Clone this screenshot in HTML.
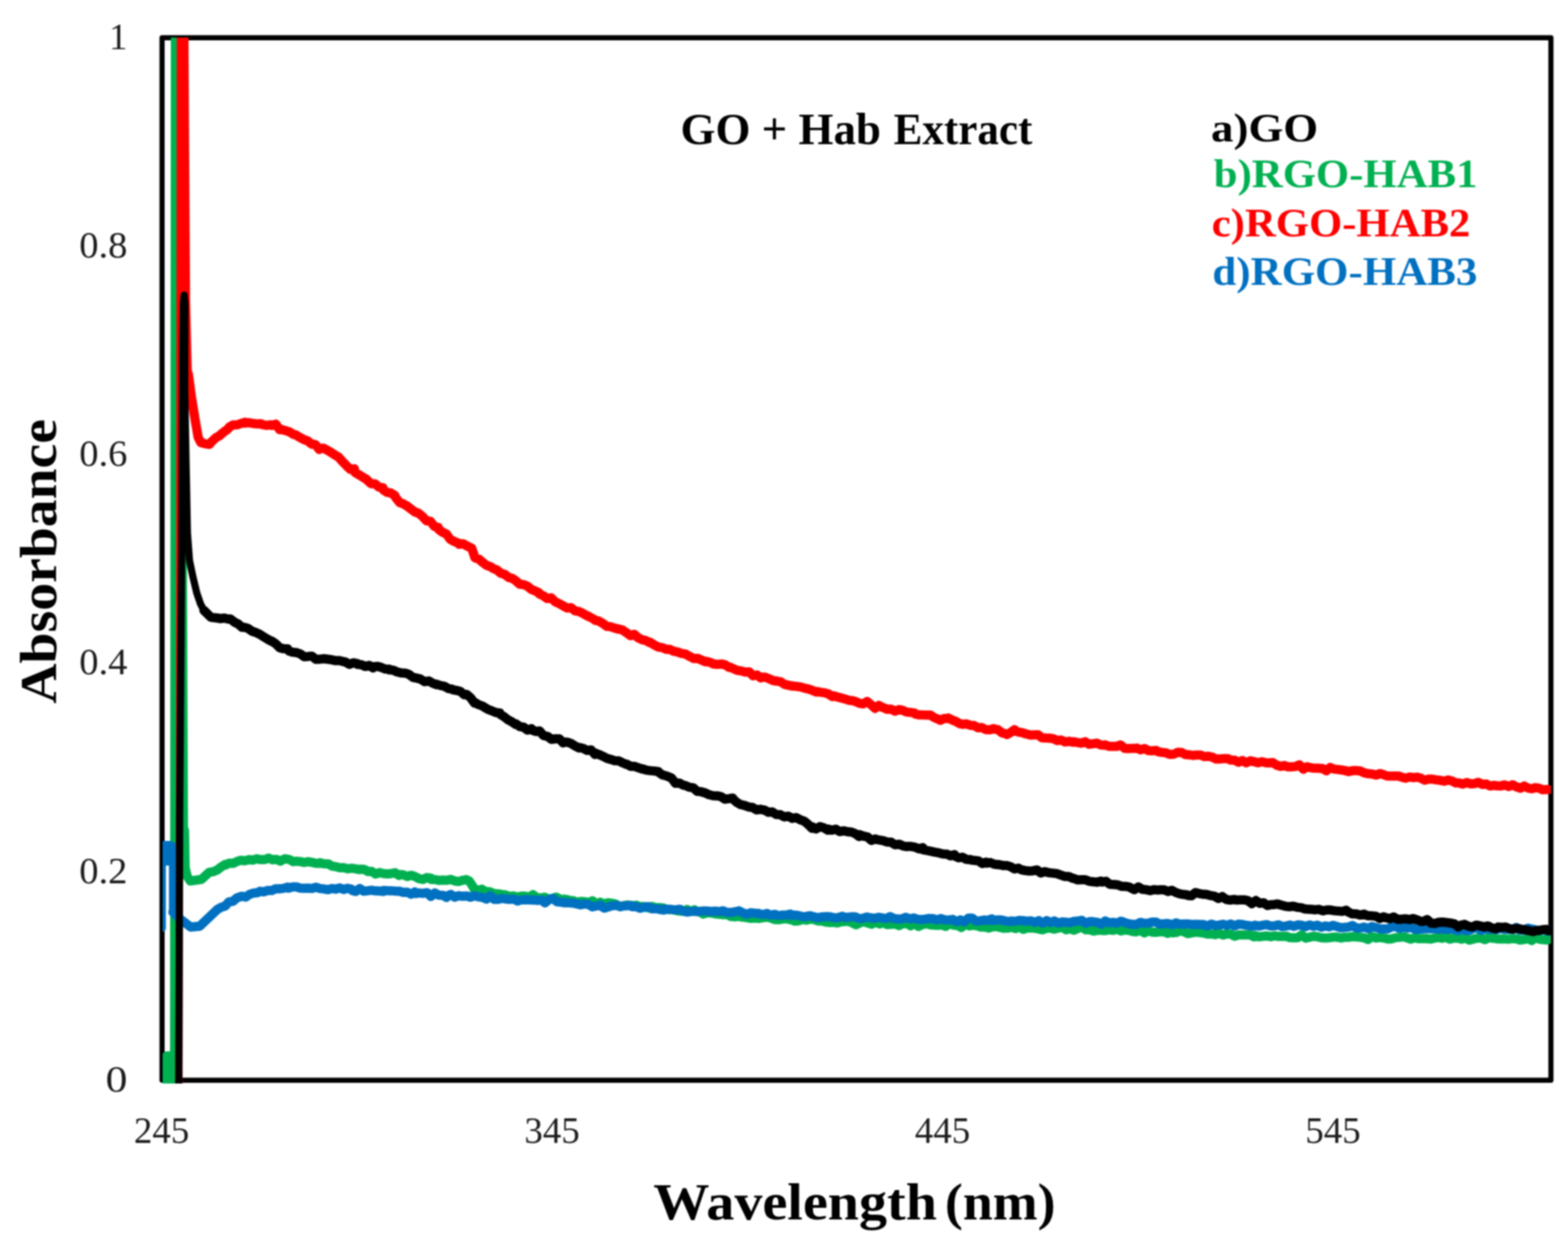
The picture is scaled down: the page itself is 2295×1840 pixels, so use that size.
<!DOCTYPE html>
<html><head><meta charset="utf-8"><title>GO + Hab Extract</title>
<style>
html,body{margin:0;padding:0;background:#fff;}
body{width:2295px;height:1840px;overflow:hidden;}
svg{display:block;}
#wrap{filter:blur(1px);width:2295px;height:1840px;}
.tick{font-family:"Liberation Serif",serif;font-size:54px;fill:#1c1c1c;}
.bold{font-family:"Liberation Serif",serif;font-weight:bold;}
</style></head><body><div id="wrap">
<svg width="2295" height="1840" viewBox="0 0 2295 1840">
<rect width="2295" height="1840" fill="#fff"/>
<defs><clipPath id="pa"><rect x="238" y="55" width="2032.0" height="1531"/></clipPath></defs>
<rect x="237.2" y="55.2" width="2032.8" height="1526.0" fill="none" stroke="#000" stroke-width="7.5" stroke-linejoin="round"/>
<g clip-path="url(#pa)">
<path d="M243.2 1620.0 L243.2 1544.2 L248.5 1544.2 L248.5 1620.0 L254.0 1620.0 L255.3 30.0 L265.0 30.0 L270.0 1215.0" fill="none" stroke="#00B050" stroke-width="10.5" stroke-linejoin="round" stroke-linecap="round"/>
<path d="M270.0 1215.0 L271.0 1270.0 L274.0 1283.0 L278.6 1289.6 L294.8 1287.3 L306.4 1276.8 L312.1 1275.9 L317.8 1273.6 L323.5 1269.2 L329.3 1265.6 L329.6 1266.4 L335.3 1263.6 L341.0 1263.8 L346.7 1261.1 L352.5 1259.2 L358.2 1260.0 L363.9 1258.6 L364.4 1258.3 L370.1 1259.0 L375.8 1257.1 L381.5 1258.3 L387.3 1258.2 L387.5 1258.3 L393.2 1256.1 L398.9 1258.5 L404.6 1258.0 L410.4 1260.5 L416.1 1257.4 L417.7 1257.1 L423.4 1258.1 L429.1 1261.2 L433.9 1260.6 L439.6 1261.2 L445.3 1262.5 L451.0 1261.3 L456.8 1262.4 L462.5 1263.8 L468.2 1263.8 L468.7 1262.9 L474.4 1264.5 L480.1 1264.4 L485.8 1267.8 L491.6 1268.7 L491.9 1268.7 L497.6 1270.2 L503.3 1270.1 L509.0 1271.8 L514.8 1270.9 L520.5 1271.8 L526.2 1273.0 L526.7 1272.2 L532.4 1272.5 L538.1 1275.1 L538.3 1275.7 L544.0 1275.6 L549.7 1279.4 L555.4 1277.3 L561.2 1278.8 L566.9 1279.3 L572.6 1278.7 L578.3 1277.6 L584.0 1281.5 L584.7 1280.3 L590.4 1280.6 L596.1 1283.0 L601.8 1281.2 L607.6 1283.2 L613.3 1286.2 L619.0 1287.3 L624.7 1284.6 L630.4 1285.5 L631.1 1287.3 L636.8 1287.5 L642.5 1288.7 L648.2 1288.2 L654.0 1288.6 L659.7 1287.2 L665.4 1289.5 L671.1 1290.4 L676.8 1288.6 L682.5 1287.6 L686.7 1289.6 L692.4 1298.1 L693.7 1301.2 L699.4 1303.5 L705.1 1301.6 L710.8 1305.0 L716.6 1305.2 L722.3 1307.6 L723.8 1308.1 L729.5 1308.4 L735.2 1309.4 L740.0 1309.9 L745.7 1312.4 L751.4 1311.4 L757.1 1313.1 L762.9 1311.7 L768.6 1311.8 L774.3 1313.4 L780.0 1309.7 L785.7 1313.8 L791.4 1314.6 L797.1 1313.3 L802.9 1316.0 L808.6 1315.2 L814.3 1313.2 L820.0 1316.6 L825.7 1316.1 L831.4 1317.2 L832.8 1318.0 L838.5 1318.3 L844.2 1320.6 L849.9 1319.6 L855.7 1320.0 L861.4 1321.0 L867.1 1318.6 L872.8 1323.1 L878.5 1320.6 L884.2 1323.1 L889.9 1321.5 L895.7 1322.2 L901.4 1323.5 L907.1 1327.0 L912.8 1325.9 L918.5 1324.7 L924.2 1325.6 L925.5 1326.1 L931.2 1325.1 L936.9 1327.1 L942.6 1326.9 L948.4 1329.0 L954.1 1326.8 L959.8 1328.7 L965.5 1328.5 L971.2 1329.2 L976.9 1331.5 L982.6 1331.3 L988.4 1332.3 L994.1 1333.6 L999.8 1334.1 L1005.5 1331.3 L1011.2 1334.3 L1016.9 1331.8 L1018.3 1334.2 L1024.0 1334.8 L1029.7 1338.0 L1035.4 1335.9 L1041.2 1336.4 L1046.9 1337.7 L1052.6 1338.2 L1058.3 1338.9 L1064.0 1338.5 L1069.7 1341.6 L1075.5 1342.0 L1081.2 1341.2 L1086.9 1342.6 L1087.9 1342.3 L1093.6 1343.4 L1099.3 1344.2 L1105.0 1343.7 L1110.8 1344.4 L1116.5 1343.4 L1122.2 1342.6 L1127.9 1343.7 L1133.6 1345.9 L1139.3 1346.2 L1145.1 1345.4 L1150.8 1344.7 L1156.5 1346.2 L1157.4 1345.8 L1163.1 1348.3 L1168.8 1348.1 L1174.5 1345.8 L1180.3 1346.9 L1186.0 1345.4 L1191.7 1346.1 L1197.4 1348.1 L1203.1 1348.2 L1208.8 1349.7 L1214.6 1350.4 L1220.3 1350.1 L1226.0 1351.0 L1230.0 1349.5 L1235.7 1349.0 L1241.4 1348.4 L1247.1 1350.7 L1252.9 1353.7 L1258.6 1350.9 L1264.3 1349.1 L1270.0 1351.1 L1275.7 1352.9 L1281.4 1349.8 L1287.2 1352.4 L1292.9 1350.8 L1298.6 1353.4 L1304.3 1353.0 L1310.0 1352.5 L1315.7 1354.9 L1321.4 1352.0 L1327.2 1351.8 L1332.9 1355.3 L1338.6 1351.9 L1344.3 1356.1 L1350.0 1353.4 L1355.7 1352.3 L1361.4 1353.8 L1367.2 1354.2 L1372.9 1354.5 L1378.6 1354.1 L1384.3 1356.0 L1390.0 1351.7 L1395.7 1354.2 L1401.5 1354.8 L1407.2 1357.7 L1412.9 1352.9 L1418.6 1355.3 L1424.3 1354.4 L1430.0 1355.2 L1435.7 1357.1 L1441.5 1357.0 L1447.2 1358.5 L1451.9 1356.8 L1457.6 1356.2 L1463.3 1357.5 L1469.0 1358.8 L1474.8 1358.6 L1480.5 1357.2 L1486.2 1359.2 L1491.9 1356.7 L1497.6 1360.4 L1503.3 1358.4 L1509.1 1358.2 L1514.8 1358.9 L1520.5 1359.8 L1526.2 1361.1 L1531.9 1358.8 L1537.6 1358.7 L1543.3 1360.1 L1549.1 1358.4 L1554.8 1357.5 L1560.5 1360.9 L1566.2 1359.5 L1571.9 1361.6 L1577.6 1359.0 L1583.3 1356.7 L1589.1 1361.0 L1594.8 1361.0 L1600.5 1363.0 L1606.2 1361.8 L1611.9 1361.7 L1617.6 1362.2 L1623.4 1361.1 L1629.1 1361.8 L1634.8 1360.1 L1640.5 1362.7 L1646.2 1361.2 L1651.9 1361.8 L1657.6 1363.4 L1663.4 1363.9 L1669.1 1361.5 L1674.8 1365.6 L1680.5 1362.4 L1686.2 1364.4 L1691.9 1364.7 L1697.6 1363.9 L1703.4 1364.0 L1709.1 1366.3 L1710.0 1364.0 L1715.7 1365.4 L1721.4 1365.1 L1727.1 1362.4 L1732.9 1364.0 L1738.6 1366.7 L1744.3 1365.7 L1750.0 1364.5 L1755.7 1365.1 L1761.4 1365.8 L1767.2 1367.3 L1772.9 1367.2 L1778.6 1368.2 L1784.3 1366.1 L1790.0 1368.7 L1795.7 1367.0 L1801.4 1367.5 L1807.2 1370.4 L1812.9 1368.5 L1818.6 1368.4 L1824.3 1368.6 L1830.0 1368.6 L1835.7 1371.4 L1836.8 1369.4 L1842.5 1371.3 L1848.2 1370.6 L1853.9 1370.0 L1859.7 1371.2 L1865.4 1369.9 L1871.1 1370.7 L1876.8 1370.7 L1882.5 1370.4 L1888.2 1372.6 L1894.0 1372.8 L1899.7 1372.4 L1905.4 1368.3 L1911.1 1373.3 L1916.8 1371.9 L1922.5 1370.5 L1928.2 1371.2 L1934.0 1372.8 L1939.7 1373.0 L1945.4 1372.7 L1951.1 1371.8 L1956.8 1371.8 L1962.5 1373.0 L1968.2 1371.9 L1973.7 1372.1 L1979.4 1371.0 L1985.1 1371.4 L1990.8 1372.1 L1996.6 1372.8 L2002.3 1375.3 L2008.0 1370.7 L2013.7 1373.1 L2019.4 1372.4 L2025.1 1373.0 L2030.9 1374.4 L2036.6 1374.4 L2042.3 1372.6 L2048.0 1372.1 L2053.7 1371.1 L2059.4 1372.9 L2065.1 1374.7 L2070.9 1372.7 L2076.6 1374.1 L2082.3 1374.1 L2088.0 1373.8 L2093.7 1374.7 L2099.4 1373.2 L2105.1 1372.4 L2110.5 1373.5 L2116.2 1372.0 L2121.9 1374.8 L2127.6 1373.2 L2133.4 1373.3 L2139.1 1374.8 L2144.8 1372.8 L2150.5 1376.1 L2156.2 1374.7 L2161.9 1373.2 L2167.7 1373.2 L2173.4 1375.4 L2179.1 1372.5 L2184.8 1373.3 L2190.5 1374.2 L2196.2 1374.5 L2201.9 1374.3 L2207.7 1374.8 L2213.4 1373.9 L2219.1 1374.2 L2224.8 1376.1 L2230.5 1375.3 L2236.2 1374.0 L2241.9 1376.8 L2247.7 1372.1 L2253.4 1374.8 L2259.1 1375.6 L2264.8 1376.0 L2266.5 1374.8" fill="none" stroke="#00B050" stroke-width="13.5" stroke-linejoin="round" stroke-linecap="round"/>
<path d="M262.0 1620.0 L264.0 30.0 L270.5 30.0 L273.0 440.0 L275.6 547.0" fill="none" stroke="#FF0000" stroke-width="10.5" stroke-linejoin="round" stroke-linecap="round"/>
<path d="M275.6 547.0 L280.0 580.0 L285.5 614.0 L290.0 640.0 L294.0 648.0 L300.9 649.6 L306.6 650.5 L310.2 646.1 L315.9 640.8 L321.6 637.8 L322.0 637.0 L327.7 632.3 L333.4 628.2 L335.7 625.2 L341.4 621.9 L347.1 621.8 L352.8 619.9 L358.6 618.1 L358.9 619.4 L364.6 618.8 L370.3 619.8 L376.0 620.6 L381.8 620.3 L384.4 621.7 L390.1 622.7 L395.8 621.8 L398.0 622.7 L403.7 620.9 L409.4 629.0 L412.3 628.7 L418.0 630.4 L423.7 632.2 L429.4 635.7 L433.1 636.8 L438.8 640.3 L444.5 643.3 L450.2 645.4 L456.0 650.0 L461.7 651.0 L467.4 658.1 L467.9 656.5 L473.6 656.1 L479.0 659.0 L484.7 662.3 L490.4 666.1 L495.7 669.3 L501.4 675.8 L507.1 681.5 L507.3 682.0 L513.0 687.1 L518.7 686.2 L519.4 691.5 L525.1 694.8 L530.8 698.3 L536.5 701.6 L537.5 702.9 L543.2 708.1 L548.9 708.3 L554.6 712.9 L560.4 713.8 L560.7 716.8 L566.4 720.6 L572.1 721.7 L577.8 725.3 L579.2 728.4 L584.9 735.6 L590.6 737.7 L596.3 741.1 L602.1 745.6 L607.1 749.3 L612.8 751.4 L618.5 756.1 L624.2 762.3 L630.0 763.1 L635.7 770.5 L641.4 772.0 L641.8 774.8 L647.5 779.0 L653.2 781.5 L658.9 789.4 L664.7 792.6 L670.4 794.8 L672.0 796.8 L677.7 795.9 L683.4 799.2 L689.1 801.9 L690.5 802.6 L695.2 816.5 L700.9 818.4 L706.6 823.4 L712.3 827.7 L718.1 829.7 L721.5 832.0 L727.2 834.3 L732.9 839.0 L738.6 840.7 L744.4 845.2 L750.1 846.8 L754.8 849.9 L760.5 855.1 L766.2 855.8 L771.9 858.0 L777.7 862.8 L783.4 865.1 L789.1 867.9 L789.6 869.6 L795.3 872.1 L801.0 876.1 L806.7 875.1 L812.5 880.8 L818.2 883.5 L823.9 886.4 L824.4 887.0 L830.1 890.0 L835.8 889.4 L841.5 894.1 L847.3 895.1 L852.2 897.4 L857.9 900.6 L863.6 903.4 L869.3 906.4 L870.7 907.8 L876.4 909.1 L882.1 912.4 L887.8 916.7 L893.6 917.4 L899.3 919.3 L905.0 921.0 L905.5 920.6 L911.2 922.3 L916.9 926.1 L922.6 930.5 L928.4 928.5 L934.1 933.7 L939.8 936.4 L945.5 937.8 L951.2 940.9 L951.9 940.3 L957.6 944.0 L963.3 947.1 L969.0 947.9 L974.8 950.4 L980.5 950.6 L986.2 953.3 L991.9 954.4 L997.6 956.6 L998.3 956.5 L1004.0 957.7 L1009.7 961.1 L1015.4 964.0 L1021.2 963.8 L1026.9 966.3 L1032.6 968.7 L1033.1 968.1 L1038.8 969.4 L1044.5 972.0 L1050.2 972.4 L1056.0 971.9 L1061.7 973.4 L1067.4 977.1 L1067.9 976.3 L1073.6 978.9 L1079.3 981.4 L1085.0 982.1 L1090.8 983.9 L1096.5 983.4 L1102.2 989.2 L1107.9 988.0 L1113.6 992.4 L1114.2 991.3 L1119.9 991.3 L1125.6 993.5 L1131.3 996.2 L1137.1 997.0 L1142.8 998.2 L1148.5 1001.9 L1154.2 1003.2 L1159.9 1004.4 L1160.6 1004.1 L1166.3 1004.9 L1172.0 1005.6 L1177.7 1007.4 L1183.5 1008.7 L1189.2 1010.7 L1194.9 1013.1 L1195.4 1012.2 L1201.1 1013.4 L1206.8 1014.1 L1212.5 1015.8 L1218.3 1019.7 L1220.0 1018.5 L1225.7 1020.2 L1231.4 1021.8 L1237.1 1023.3 L1242.9 1025.2 L1246.4 1025.4 L1252.1 1026.8 L1257.8 1029.5 L1263.5 1030.3 L1269.3 1026.8 L1275.0 1031.6 L1280.7 1036.9 L1286.4 1032.7 L1292.1 1035.8 L1292.8 1035.8 L1298.5 1038.3 L1304.2 1038.1 L1309.9 1041.0 L1315.7 1038.7 L1321.4 1039.9 L1327.1 1042.4 L1332.8 1042.9 L1338.5 1043.6 L1339.1 1045.1 L1344.8 1046.4 L1350.5 1046.6 L1356.2 1046.8 L1362.0 1046.8 L1362.3 1047.4 L1368.0 1050.6 L1373.7 1053.0 L1376.3 1054.4 L1382.0 1051.7 L1387.7 1051.6 L1387.8 1050.9 L1393.5 1053.9 L1399.2 1056.1 L1404.9 1059.4 L1408.7 1060.2 L1414.4 1059.6 L1420.1 1061.7 L1425.8 1062.1 L1431.6 1065.3 L1437.3 1065.1 L1443.0 1068.1 L1448.7 1068.2 L1454.4 1066.5 L1455.1 1067.1 L1460.8 1068.2 L1466.5 1072.7 L1472.2 1074.2 L1473.7 1075.2 L1479.4 1072.1 L1485.1 1068.1 L1485.3 1069.4 L1491.0 1071.7 L1496.7 1072.7 L1502.4 1074.5 L1508.2 1075.9 L1513.9 1075.8 L1519.6 1075.6 L1524.7 1079.9 L1530.4 1080.3 L1536.1 1080.5 L1541.8 1081.4 L1547.6 1084.0 L1553.3 1083.3 L1559.0 1086.1 L1564.7 1085.1 L1570.4 1086.5 L1571.1 1085.7 L1576.8 1086.9 L1582.5 1087.9 L1588.2 1085.8 L1594.0 1089.4 L1599.7 1088.7 L1605.4 1087.8 L1611.1 1090.5 L1616.8 1090.7 L1617.4 1090.3 L1623.1 1092.6 L1628.8 1092.4 L1634.5 1092.5 L1640.3 1090.5 L1646.0 1095.4 L1651.7 1095.7 L1657.4 1095.4 L1663.1 1095.5 L1663.8 1095.0 L1669.5 1097.6 L1675.2 1095.8 L1680.9 1098.8 L1686.7 1098.9 L1692.4 1098.6 L1695.0 1100.3 L1700.7 1101.4 L1706.4 1102.0 L1712.1 1104.3 L1717.9 1104.0 L1723.6 1101.3 L1729.3 1101.4 L1735.0 1104.5 L1740.7 1104.9 L1745.7 1105.7 L1751.4 1105.2 L1757.1 1105.2 L1762.8 1107.6 L1768.6 1107.0 L1774.3 1108.3 L1780.0 1111.1 L1785.7 1111.0 L1791.4 1110.4 L1797.1 1110.6 L1801.3 1112.6 L1807.0 1112.8 L1812.7 1115.7 L1818.4 1113.2 L1824.2 1116.6 L1829.9 1113.7 L1835.6 1114.9 L1841.3 1116.5 L1847.0 1115.0 L1852.7 1116.5 L1857.0 1116.8 L1862.7 1116.2 L1868.4 1120.0 L1874.1 1121.8 L1879.9 1120.6 L1884.8 1122.4 L1890.5 1122.6 L1896.2 1121.9 L1901.9 1119.6 L1907.7 1126.0 L1912.7 1122.4 L1918.4 1123.8 L1924.1 1124.6 L1929.8 1124.6 L1935.6 1124.9 L1941.3 1128.3 L1947.0 1123.4 L1952.7 1125.9 L1958.4 1126.4 L1964.1 1127.2 L1968.3 1127.9 L1974.0 1129.4 L1979.7 1128.1 L1985.4 1127.9 L1991.2 1128.7 L1996.9 1131.4 L2002.6 1132.6 L2008.3 1133.0 L2014.0 1134.6 L2019.7 1132.4 L2024.0 1133.5 L2029.7 1135.7 L2035.4 1136.1 L2041.1 1135.9 L2046.9 1136.0 L2051.8 1137.7 L2057.5 1139.1 L2063.2 1137.4 L2068.9 1138.2 L2074.7 1137.6 L2079.6 1139.1 L2085.3 1142.1 L2091.0 1140.4 L2096.7 1140.6 L2102.5 1141.6 L2108.2 1142.3 L2113.9 1143.5 L2119.6 1141.8 L2125.3 1143.3 L2131.0 1146.1 L2135.3 1146.0 L2141.0 1147.8 L2146.7 1145.5 L2152.4 1147.4 L2158.2 1147.0 L2163.9 1145.2 L2169.6 1148.2 L2175.3 1147.6 L2181.0 1150.6 L2186.7 1149.6 L2191.0 1150.2 L2196.7 1150.4 L2202.4 1148.9 L2208.1 1151.2 L2213.9 1148.8 L2219.6 1151.9 L2225.3 1153.7 L2231.0 1150.6 L2236.7 1153.6 L2242.4 1154.6 L2246.6 1153.0 L2252.3 1153.6 L2258.0 1156.1 L2263.7 1155.6 L2266.0 1155.8" fill="none" stroke="#FF0000" stroke-width="13.5" stroke-linejoin="round" stroke-linecap="round"/>
<path d="M237.5 1359.0 L237.5 1240.0 L252.5 1242.0 L252.5 1335.0 L253.0 1335.0" fill="none" stroke="#0070C0" stroke-width="10.5" stroke-linejoin="round" stroke-linecap="round"/>
<path d="M253.0 1335.0 L263.0 1345.0 L270.0 1350.0 L279.0 1357.0 L292.5 1355.7 L318.0 1331.3 L323.7 1328.1 L329.4 1326.3 L335.1 1320.2 L340.9 1319.4 L346.6 1314.4 L348.1 1313.9 L353.8 1311.9 L359.5 1313.1 L365.2 1309.2 L371.0 1307.3 L376.7 1306.7 L380.6 1304.6 L386.3 1305.5 L392.0 1303.4 L397.7 1303.6 L403.5 1300.9 L409.2 1301.1 L414.9 1300.4 L420.6 1298.6 L422.3 1300.2 L428.0 1298.3 L433.7 1298.2 L439.4 1300.0 L445.2 1300.2 L450.9 1300.0 L456.6 1300.6 L462.3 1298.8 L468.0 1300.5 L468.7 1300.6 L474.4 1301.3 L480.1 1302.3 L485.8 1300.6 L491.6 1301.5 L497.3 1299.8 L503.0 1302.1 L508.7 1300.2 L514.4 1301.6 L515.1 1303.5 L520.8 1304.9 L526.5 1300.6 L532.2 1304.5 L538.0 1303.9 L543.7 1303.1 L549.4 1304.1 L555.1 1304.2 L560.8 1304.9 L561.5 1303.5 L567.2 1303.8 L572.9 1303.9 L578.6 1304.4 L584.4 1304.5 L590.1 1306.3 L595.8 1305.9 L601.5 1308.9 L607.2 1305.6 L607.9 1308.1 L613.6 1307.1 L619.3 1307.7 L625.0 1306.7 L630.8 1312.3 L636.5 1307.1 L642.2 1310.3 L647.9 1310.4 L653.6 1313.7 L654.2 1311.6 L659.9 1309.2 L665.6 1313.3 L671.3 1311.1 L677.1 1312.0 L682.8 1311.5 L688.5 1313.3 L694.2 1311.2 L699.9 1312.7 L700.6 1312.8 L706.3 1313.7 L712.0 1316.1 L717.7 1311.1 L723.5 1316.6 L729.2 1316.4 L734.9 1315.0 L740.0 1316.0 L745.7 1316.6 L751.4 1315.9 L757.1 1318.9 L762.9 1317.3 L768.6 1317.0 L774.3 1317.2 L780.0 1317.5 L785.7 1317.7 L786.4 1318.0 L792.1 1317.3 L797.8 1321.5 L803.5 1316.8 L809.3 1315.0 L815.0 1320.0 L820.7 1320.4 L826.4 1321.5 L832.1 1321.2 L832.8 1321.5 L838.5 1321.9 L844.2 1323.1 L849.9 1324.5 L855.7 1323.2 L861.4 1323.9 L867.1 1327.4 L872.8 1326.2 L878.5 1324.8 L879.1 1326.1 L884.8 1329.3 L890.5 1327.4 L896.2 1325.8 L902.0 1325.2 L907.7 1327.2 L913.4 1325.9 L919.1 1325.8 L924.8 1325.6 L925.5 1327.3 L931.2 1327.1 L936.9 1329.6 L942.6 1328.0 L948.4 1327.1 L954.1 1330.3 L959.8 1329.9 L965.5 1331.3 L971.2 1332.2 L971.9 1330.7 L977.6 1330.9 L983.3 1331.4 L989.0 1331.9 L994.8 1330.9 L1000.5 1333.7 L1006.2 1335.1 L1011.9 1333.9 L1017.6 1333.8 L1018.3 1334.2 L1024.0 1334.0 L1029.7 1333.5 L1035.4 1333.6 L1041.2 1334.3 L1046.9 1333.8 L1052.6 1334.5 L1058.3 1333.2 L1064.0 1335.8 L1064.7 1335.4 L1070.4 1335.7 L1076.1 1334.5 L1081.8 1333.3 L1087.6 1336.5 L1093.3 1338.3 L1099.0 1336.1 L1104.7 1336.8 L1110.4 1336.9 L1111.1 1337.7 L1116.8 1338.8 L1122.5 1337.1 L1128.2 1339.8 L1134.0 1338.4 L1139.7 1340.3 L1145.4 1339.4 L1151.1 1339.4 L1156.8 1338.0 L1157.4 1340.0 L1163.1 1339.4 L1168.8 1340.2 L1174.5 1341.7 L1180.3 1341.5 L1186.0 1340.5 L1191.7 1342.2 L1197.4 1343.3 L1203.1 1342.1 L1203.8 1342.3 L1209.5 1341.8 L1215.2 1341.9 L1220.9 1343.5 L1226.7 1343.2 L1232.4 1341.3 L1238.1 1343.1 L1240.0 1342.6 L1245.7 1342.1 L1251.4 1341.9 L1257.1 1344.6 L1262.9 1344.2 L1268.6 1342.3 L1274.3 1343.5 L1280.0 1344.2 L1285.7 1342.8 L1291.4 1343.6 L1297.2 1344.8 L1302.9 1341.7 L1308.6 1344.6 L1314.3 1345.3 L1320.0 1345.1 L1325.7 1342.8 L1331.4 1345.1 L1337.2 1343.7 L1342.9 1345.7 L1348.6 1345.9 L1354.3 1345.5 L1360.0 1344.4 L1365.7 1344.7 L1371.4 1346.7 L1377.2 1344.6 L1382.9 1346.5 L1388.6 1346.7 L1394.3 1345.8 L1400.0 1349.4 L1405.7 1346.5 L1411.5 1349.4 L1417.2 1344.1 L1422.9 1343.9 L1428.6 1348.2 L1434.3 1347.9 L1440.0 1346.8 L1445.7 1347.3 L1451.5 1345.0 L1451.9 1347.5 L1457.6 1346.8 L1463.3 1346.4 L1469.0 1347.5 L1474.8 1349.1 L1480.5 1348.1 L1486.2 1348.6 L1491.9 1347.3 L1497.6 1347.7 L1503.3 1348.5 L1509.1 1348.1 L1514.8 1350.2 L1520.5 1347.6 L1526.2 1351.3 L1531.9 1347.6 L1537.6 1350.4 L1543.3 1348.1 L1549.1 1351.3 L1554.8 1349.5 L1560.5 1349.9 L1566.2 1350.5 L1571.9 1348.8 L1577.6 1348.3 L1583.3 1347.2 L1589.1 1351.5 L1594.8 1349.1 L1600.5 1349.3 L1606.2 1350.2 L1611.9 1352.9 L1617.6 1348.1 L1623.4 1350.8 L1629.1 1350.1 L1634.8 1351.4 L1640.5 1348.4 L1646.2 1350.4 L1651.9 1352.1 L1657.6 1353.1 L1663.4 1353.3 L1669.1 1350.2 L1674.8 1351.5 L1680.5 1351.3 L1686.2 1349.8 L1691.9 1349.8 L1697.6 1352.8 L1703.4 1352.2 L1709.1 1351.8 L1710.0 1352.0 L1715.7 1353.7 L1721.4 1350.9 L1727.1 1353.0 L1732.9 1352.4 L1738.6 1352.4 L1744.3 1353.3 L1750.0 1353.0 L1755.7 1353.2 L1761.4 1353.3 L1767.2 1355.6 L1772.9 1352.7 L1778.6 1354.6 L1784.3 1354.1 L1790.0 1353.0 L1795.7 1354.6 L1801.4 1352.5 L1807.2 1355.3 L1812.9 1352.8 L1818.6 1353.3 L1824.3 1354.5 L1830.0 1355.3 L1835.7 1355.5 L1836.8 1354.3 L1842.5 1355.6 L1848.2 1354.3 L1853.9 1353.4 L1859.7 1355.5 L1865.4 1355.3 L1871.1 1353.7 L1876.8 1356.4 L1882.5 1355.5 L1888.2 1354.1 L1894.0 1356.0 L1899.7 1353.8 L1905.4 1354.5 L1911.1 1356.3 L1916.8 1353.9 L1922.5 1356.0 L1928.2 1354.3 L1934.0 1357.2 L1939.7 1355.4 L1945.4 1356.7 L1951.1 1354.6 L1956.8 1356.2 L1962.5 1358.0 L1968.2 1357.5 L1973.7 1357.0 L1979.4 1354.7 L1985.1 1358.4 L1990.8 1358.5 L1996.6 1357.0 L2002.3 1359.4 L2008.0 1356.3 L2013.7 1357.7 L2019.4 1359.4 L2025.1 1359.8 L2030.9 1359.8 L2036.6 1356.9 L2042.3 1356.1 L2048.0 1359.0 L2053.7 1356.8 L2059.4 1358.6 L2065.1 1357.2 L2070.9 1360.4 L2076.6 1360.2 L2082.3 1359.9 L2088.0 1359.4 L2093.7 1359.5 L2099.4 1359.2 L2105.1 1360.2 L2110.5 1359.8 L2116.2 1360.2 L2121.9 1360.5 L2127.6 1359.4 L2133.4 1362.5 L2139.1 1360.4 L2144.8 1361.9 L2150.5 1361.9 L2156.2 1359.1 L2161.9 1358.1 L2167.7 1361.9 L2173.4 1359.9 L2179.1 1360.5 L2184.8 1360.1 L2190.5 1360.7 L2196.2 1359.0 L2201.9 1360.5 L2207.7 1360.1 L2213.4 1360.7 L2219.1 1357.7 L2224.8 1361.9 L2230.5 1361.3 L2236.2 1358.7 L2241.9 1360.0 L2247.7 1361.1 L2253.4 1361.9 L2259.1 1361.1 L2264.8 1363.0 L2266.5 1361.2" fill="none" stroke="#0070C0" stroke-width="13.5" stroke-linejoin="round" stroke-linecap="round"/>
<path d="M236 1231 L250 1231 L257 1234 L257 1267 L236 1267 Z" fill="#0070C0"/>
<path d="M261.5 1620.0 L263.0 1200.0 L266.0 800.0 L267.5 500.0 L268.3 445.0 L269.5 432.0 L270.7 445.0 L270.4 572.0 L272.8 700.0 L274.3 780.0 L277.3 820.0 L282.5 845.0 L288.0 868.0 L293.5 884.0 L298.4 893.4" fill="none" stroke="#000000" stroke-width="10.5" stroke-linejoin="round" stroke-linecap="round"/>
<path d="M298.4 893.4 L308.6 903.5 L314.3 904.2 L317.0 904.5 L322.7 905.5 L328.4 904.7 L334.1 906.2 L337.2 906.0 L342.9 910.6 L348.6 913.4 L354.3 918.3 L357.5 918.2 L363.2 919.9 L368.9 924.0 L374.6 925.9 L380.4 928.6 L386.1 932.3 L391.8 935.7 L397.5 938.8 L398.0 938.5 L403.7 942.5 L409.4 948.1 L415.1 949.6 L420.9 949.7 L422.2 952.6 L427.9 954.6 L433.6 955.2 L439.3 957.1 L445.1 961.2 L450.8 960.9 L456.5 960.4 L462.2 965.1 L462.7 964.8 L468.4 964.9 L474.1 964.2 L479.8 965.0 L485.6 965.8 L491.3 967.1 L497.0 967.0 L500.0 967.8 L505.7 969.1 L511.4 972.5 L517.1 970.2 L522.9 971.4 L523.2 972.5 L528.9 973.0 L534.6 975.6 L540.3 974.1 L546.1 977.7 L546.4 975.9 L552.1 975.4 L557.8 976.9 L563.5 979.3 L569.3 979.4 L569.6 980.6 L575.3 980.9 L581.0 983.5 L586.7 984.9 L592.5 985.3 L592.8 985.2 L598.5 987.1 L604.2 991.5 L609.9 992.6 L615.7 994.1 L616.0 994.5 L621.7 997.8 L627.4 996.8 L633.1 999.9 L638.9 1002.3 L639.1 1001.5 L644.8 1003.5 L650.5 1004.7 L656.2 1007.9 L662.0 1008.8 L662.3 1009.6 L668.0 1010.7 L673.7 1012.0 L679.4 1017.0 L683.2 1016.5 L688.9 1021.5 L694.6 1029.4 L694.8 1028.1 L700.5 1031.5 L706.2 1033.5 L708.7 1035.1 L714.4 1038.5 L720.1 1040.6 L725.8 1043.0 L731.6 1043.6 L731.9 1045.5 L737.6 1049.0 L743.3 1053.5 L749.0 1056.4 L754.8 1060.5 L755.1 1059.4 L760.8 1063.6 L766.5 1064.5 L772.2 1068.8 L778.0 1066.6 L778.3 1068.7 L784.0 1070.7 L789.7 1070.0 L795.4 1076.6 L801.2 1078.0 L801.5 1078.0 L807.2 1082.2 L812.9 1081.5 L818.6 1081.4 L824.4 1087.6 L824.7 1086.1 L830.4 1086.4 L836.1 1088.4 L841.8 1091.9 L847.6 1094.9 L847.9 1094.2 L853.6 1095.5 L859.3 1098.4 L865.0 1097.7 L870.8 1104.4 L871.1 1102.3 L876.8 1104.5 L882.5 1107.1 L888.2 1110.0 L894.0 1111.7 L894.2 1111.6 L899.9 1113.6 L905.6 1113.8 L911.3 1116.6 L917.1 1119.1 L917.4 1118.6 L923.1 1121.7 L928.8 1121.8 L934.5 1123.8 L940.3 1125.8 L940.6 1125.5 L946.3 1127.4 L952.0 1128.1 L957.7 1128.6 L963.5 1129.5 L963.8 1130.2 L969.5 1134.3 L975.2 1135.8 L980.9 1138.1 L983.0 1139.0 L988.7 1146.6 L994.4 1146.3 L1000.1 1149.4 L1003.2 1149.9 L1008.9 1152.4 L1014.6 1153.1 L1020.3 1158.2 L1026.1 1158.9 L1026.4 1159.1 L1032.1 1160.6 L1037.8 1163.3 L1043.5 1164.7 L1049.3 1165.1 L1049.6 1164.9 L1055.3 1166.1 L1061.0 1169.9 L1066.7 1169.1 L1072.5 1168.2 L1072.8 1169.6 L1078.5 1174.6 L1084.2 1177.8 L1084.4 1177.7 L1090.1 1179.1 L1095.8 1181.3 L1101.5 1182.0 L1107.3 1185.6 L1113.0 1184.6 L1118.7 1186.0 L1119.1 1185.8 L1124.8 1189.0 L1130.5 1188.5 L1136.2 1192.3 L1142.0 1192.6 L1142.3 1192.8 L1148.0 1195.8 L1153.7 1194.7 L1159.4 1197.9 L1165.2 1196.8 L1170.9 1199.8 L1176.6 1201.9 L1177.1 1202.0 L1182.8 1206.7 L1188.5 1212.6 L1188.7 1210.2 L1194.4 1213.4 L1200.1 1210.1 L1205.8 1211.7 L1211.6 1215.2 L1211.9 1213.6 L1217.6 1215.2 L1223.3 1213.8 L1229.0 1217.3 L1234.8 1216.2 L1240.5 1217.5 L1246.2 1218.0 L1251.9 1220.3 L1257.6 1224.6 L1258.3 1221.8 L1264.0 1224.0 L1269.7 1225.1 L1275.4 1230.2 L1281.2 1228.0 L1281.5 1228.7 L1287.2 1229.6 L1292.9 1230.6 L1298.6 1232.6 L1304.4 1232.8 L1304.7 1233.3 L1310.4 1236.6 L1316.1 1235.8 L1321.8 1238.3 L1327.6 1239.3 L1327.9 1239.1 L1333.6 1239.1 L1339.3 1240.1 L1345.0 1242.5 L1350.8 1240.8 L1351.1 1243.8 L1356.8 1245.0 L1362.5 1246.2 L1368.2 1247.4 L1374.0 1248.3 L1374.2 1248.4 L1379.9 1250.0 L1385.6 1250.3 L1391.3 1252.7 L1397.1 1250.9 L1397.4 1253.1 L1403.1 1255.7 L1408.8 1254.8 L1414.5 1258.0 L1420.3 1258.2 L1420.6 1258.9 L1426.3 1259.5 L1432.0 1260.1 L1437.7 1264.0 L1443.5 1262.0 L1443.8 1263.5 L1449.5 1262.6 L1455.2 1265.0 L1460.9 1265.7 L1462.0 1265.5 L1467.7 1266.9 L1473.4 1266.9 L1479.1 1268.6 L1484.9 1272.0 L1490.6 1270.8 L1494.8 1273.1 L1500.5 1274.4 L1506.2 1275.0 L1511.9 1274.7 L1517.7 1273.4 L1523.4 1277.9 L1529.1 1276.0 L1529.6 1275.9 L1535.3 1277.5 L1541.0 1278.1 L1546.7 1278.7 L1552.5 1280.9 L1558.2 1282.9 L1563.9 1282.9 L1569.6 1285.5 L1571.3 1285.7 L1577.0 1287.9 L1582.7 1287.8 L1588.4 1287.8 L1594.2 1290.1 L1599.9 1290.7 L1605.6 1291.4 L1611.3 1289.9 L1613.0 1291.2 L1618.7 1290.0 L1624.4 1294.5 L1630.1 1294.7 L1635.9 1295.3 L1641.6 1297.6 L1647.3 1297.5 L1653.0 1298.4 L1654.8 1299.6 L1660.5 1302.3 L1666.2 1298.3 L1671.9 1301.8 L1677.7 1302.4 L1683.4 1303.8 L1689.1 1302.2 L1694.8 1302.9 L1698.0 1302.5 L1703.7 1302.5 L1709.4 1304.9 L1715.1 1303.3 L1720.9 1306.4 L1726.6 1308.3 L1732.3 1309.3 L1738.0 1310.0 L1738.3 1310.7 L1744.0 1311.2 L1749.7 1306.6 L1754.7 1307.8 L1760.4 1309.0 L1766.1 1309.3 L1771.8 1310.9 L1777.6 1311.9 L1783.3 1315.3 L1789.0 1312.4 L1794.7 1316.5 L1800.4 1317.6 L1806.1 1316.6 L1809.5 1317.4 L1815.2 1317.3 L1820.9 1317.2 L1826.6 1318.4 L1832.4 1322.9 L1838.1 1318.2 L1843.8 1322.3 L1849.5 1321.5 L1855.2 1325.5 L1860.9 1324.2 L1864.2 1324.2 L1869.9 1323.2 L1875.6 1325.0 L1881.3 1326.6 L1887.1 1327.2 L1892.8 1326.5 L1898.5 1328.1 L1904.2 1328.6 L1909.9 1330.5 L1915.6 1331.0 L1918.9 1331.0 L1924.6 1331.7 L1930.3 1331.1 L1936.0 1333.3 L1941.8 1332.0 L1947.5 1332.1 L1953.2 1333.1 L1958.9 1333.6 L1964.6 1334.1 L1970.3 1332.4 L1973.7 1335.2 L1979.4 1337.8 L1985.1 1337.7 L1990.8 1339.5 L1996.6 1338.1 L2002.3 1340.5 L2008.0 1340.6 L2013.7 1341.2 L2019.4 1344.4 L2025.1 1342.1 L2028.4 1343.4 L2034.1 1344.7 L2039.8 1342.3 L2045.5 1345.8 L2051.3 1345.4 L2057.0 1344.9 L2062.7 1346.0 L2068.4 1344.6 L2074.1 1346.5 L2079.8 1348.7 L2083.1 1348.8 L2088.8 1346.0 L2094.5 1351.3 L2100.2 1351.8 L2106.0 1350.1 L2111.7 1349.8 L2117.4 1350.4 L2123.1 1351.2 L2128.8 1352.4 L2134.5 1356.8 L2137.9 1354.3 L2143.6 1353.1 L2149.3 1355.8 L2155.0 1356.8 L2160.8 1354.2 L2166.5 1355.4 L2172.2 1356.9 L2177.9 1355.4 L2183.6 1358.2 L2189.3 1359.6 L2192.6 1357.0 L2198.3 1357.5 L2204.0 1357.1 L2209.7 1359.5 L2215.5 1359.7 L2221.2 1358.9 L2226.9 1360.3 L2232.6 1361.1 L2238.3 1362.3 L2244.0 1363.7 L2247.3 1362.5 L2253.0 1361.9 L2258.7 1360.8 L2264.4 1360.4 L2266.5 1362.5" fill="none" stroke="#000000" stroke-width="13.5" stroke-linejoin="round" stroke-linecap="round"/>
</g>
<text x="186.5" y="71.7" text-anchor="end" class="tick">1</text>
<text x="186.5" y="376.9" text-anchor="end" class="tick" textLength="70.5" lengthAdjust="spacingAndGlyphs">0.8</text>
<text x="186.5" y="682.1" text-anchor="end" class="tick" textLength="70.5" lengthAdjust="spacingAndGlyphs">0.6</text>
<text x="186.5" y="987.3" text-anchor="end" class="tick" textLength="70.5" lengthAdjust="spacingAndGlyphs">0.4</text>
<text x="186.5" y="1292.5" text-anchor="end" class="tick" textLength="70.5" lengthAdjust="spacingAndGlyphs">0.2</text>
<text x="186.5" y="1597.7" text-anchor="end" class="tick" textLength="32" lengthAdjust="spacingAndGlyphs">0</text>
<text x="236.5" y="1673" text-anchor="middle" class="tick">245</text>
<text x="808.0" y="1673" text-anchor="middle" class="tick">345</text>
<text x="1379.5" y="1673" text-anchor="middle" class="tick">445</text>
<text x="1951.0" y="1673" text-anchor="middle" class="tick">545</text>

<text x="996.1" y="211" class="bold" font-size="66" textLength="293.3" lengthAdjust="spacingAndGlyphs">GO + Hab</text>
<text x="1308" y="211" class="bold" font-size="66" textLength="203.1" lengthAdjust="spacingAndGlyphs">Extract</text>
<text x="1772.6" y="206.5" class="bold" font-size="60" fill="#000" textLength="156.7" lengthAdjust="spacingAndGlyphs">a)GO</text>
<text x="1776.6" y="273.7" class="bold" font-size="60" fill="#00B050" textLength="385.9" lengthAdjust="spacingAndGlyphs">b)RGO-HAB1</text>
<text x="1773.6" y="345.8" class="bold" font-size="60" fill="#FF0000" textLength="378.5" lengthAdjust="spacingAndGlyphs">c)RGO-HAB2</text>
<text x="1774.6" y="416.9" class="bold" font-size="60" fill="#0070C0" textLength="387.9" lengthAdjust="spacingAndGlyphs">d)RGO-HAB3</text>
<text transform="translate(82.3,1030) rotate(-90)" class="bold" font-size="77" textLength="416.7" lengthAdjust="spacingAndGlyphs">Absorbance</text>
<text x="956.3" y="1784.7" class="bold" font-size="76" textLength="415" lengthAdjust="spacingAndGlyphs">Wavelength</text>
<text x="1383" y="1784.7" class="bold" font-size="76" textLength="162" lengthAdjust="spacingAndGlyphs">(nm)</text>
</svg></div>
</body></html>
